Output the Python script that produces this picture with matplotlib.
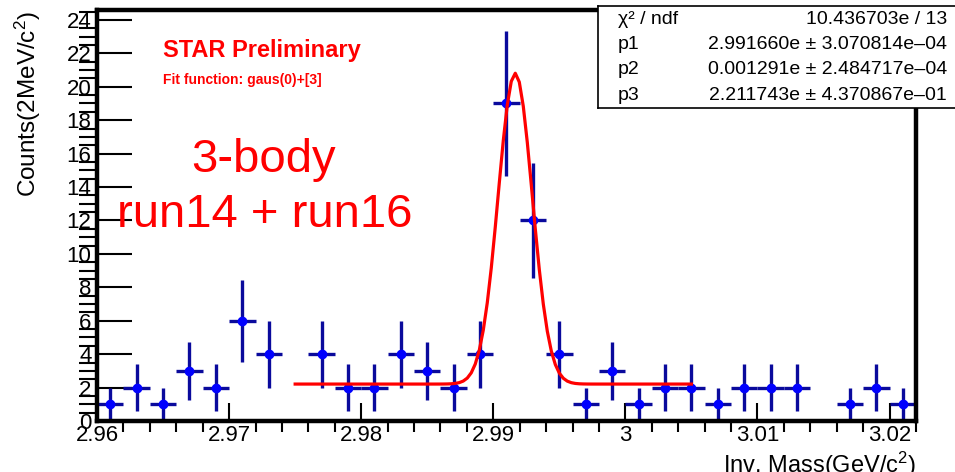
import matplotlib
matplotlib.use('Agg')
import matplotlib.pyplot as plt
import numpy as np
from matplotlib.ticker import MultipleLocator

plt.rcParams['font.family'] = ['Liberation Sans', 'DejaVu Sans']
plt.rcParams['mathtext.fontset'] = 'custom'
plt.rcParams['mathtext.rm'] = 'Liberation Sans'
plt.rcParams['mathtext.it'] = 'Liberation Sans:italic'

# histogram: 2 MeV bins, bin centres and counts
mass = np.array([2.961, 2.963, 2.965, 2.967, 2.969, 2.971, 2.973, 2.977, 2.979,
                 2.981, 2.983, 2.985, 2.987, 2.989, 2.991, 2.993, 2.995, 2.997,
                 2.999, 3.001, 3.003, 3.005, 3.007, 3.009, 3.011, 3.013, 3.017,
                 3.019, 3.021])
counts = np.array([1, 2, 1, 3, 2, 6, 4, 4, 2,
                   2, 4, 3, 2, 4, 19, 12, 4, 1,
                   3, 1, 2, 2, 1, 2, 2, 2, 1,
                   2, 1])
bin_half = 0.001

# fit parameters gaus(0)+[3]
p0 = 18.6
p1 = 2.991660
p2 = 0.001291
p3 = 2.211743
fit_lo, fit_hi = 2.975, 3.005

xtick_vals = [2.96, 2.97, 2.98, 2.99, 3.0, 3.01, 3.02]
xtick_text = ['2.96', '2.97', '2.98', '2.99', '3', '3.01', '3.02']

stats_rows = [('χ² / ndf', '10.436703e / 13'),
              ('p1', '2.991660e ± 3.070814e–04'),
              ('p2', '0.001291e ± 2.484717e–04'),
              ('p3', '2.211743e ± 4.370867e–01')]

fig = plt.figure(figsize=(9.55, 4.72), dpi=100)
ax = fig.add_axes([0.1016, 0.108, 0.8575, 0.871])

ax.errorbar(mass, counts, yerr=np.sqrt(counts), xerr=bin_half, fmt='none',
            ecolor='#0a0a9c', elinewidth=2.4, capsize=0, zorder=2)
ax.plot(mass, counts, 'o', color='#0000ff', markersize=6, zorder=3)

xf = np.linspace(fit_lo, fit_hi, 100)
yf = p0 * np.exp(-0.5 * ((xf - p1) / p2) ** 2) + p3
ax.plot(xf, yf, color='#ff0000', linewidth=2.3, zorder=4)

ax.set_xlim(2.96, 3.022)
ax.set_ylim(0, 24.6)
ax.xaxis.set_minor_locator(MultipleLocator(0.002))
ax.yaxis.set_major_locator(MultipleLocator(2))
ax.yaxis.set_minor_locator(MultipleLocator(0.5))
ax.set_xticks(xtick_vals)
ax.set_xticklabels(xtick_text)
ax.tick_params(axis='both', direction='in', labelsize=16, color='black')
ax.tick_params(axis='y', which='major', length=25, width=1.5, pad=4)
ax.tick_params(axis='y', which='minor', length=13, width=1.5)
ax.tick_params(axis='x', which='major', length=13, width=1.5, pad=3)
ax.tick_params(axis='x', which='minor', length=8, width=1.5)
for s in ax.spines.values():
    s.set_linewidth(3.2)

ax.set_ylabel(r'Counts(2MeV/c$^2$)', fontsize=17.5)
ax.yaxis.set_label_coords(-0.066, 0.771)
ax.set_xlabel(r'Inv. Mass(GeV/c$^2$)', fontsize=17, loc='right', labelpad=2.5)

fig.text(163 / 955, 1 - 50 / 472, 'STAR Preliminary', color='#ff0000',
         fontsize=17, fontweight='bold', va='center')
fig.text(163 / 955, 1 - 80 / 472, 'Fit function: gaus(0)+[3]', color='#ff0000',
         fontsize=10, fontweight='bold', va='center')
fig.text(264 / 955, 1 - 160 / 472, '3-body', color='#ff0000', fontsize=34,
         ha='center', va='center')
fig.text(265 / 955, 1 - 215 / 472, 'run14 + run16', color='#ff0000', fontsize=34,
         ha='center', va='center')

# stats box
sb = fig.add_axes([598 / 955, 1 - 108 / 472, 1 - 598 / 955, 102 / 472])
sb.set_xticks([])
sb.set_yticks([])
for s in sb.spines.values():
    s.set_linewidth(1.2)
sb.spines['right'].set_visible(False)
row_y = [0.863, 0.618, 0.373, 0.127]
for (name, val), yy in zip(stats_rows, row_y):
    sb.text(0.056, yy, name, fontsize=14, va='center', transform=sb.transAxes)
    sb.text(0.978, yy, val, fontsize=14, va='center', ha='right', transform=sb.transAxes)

fig.savefig('out.png', dpi=100)
